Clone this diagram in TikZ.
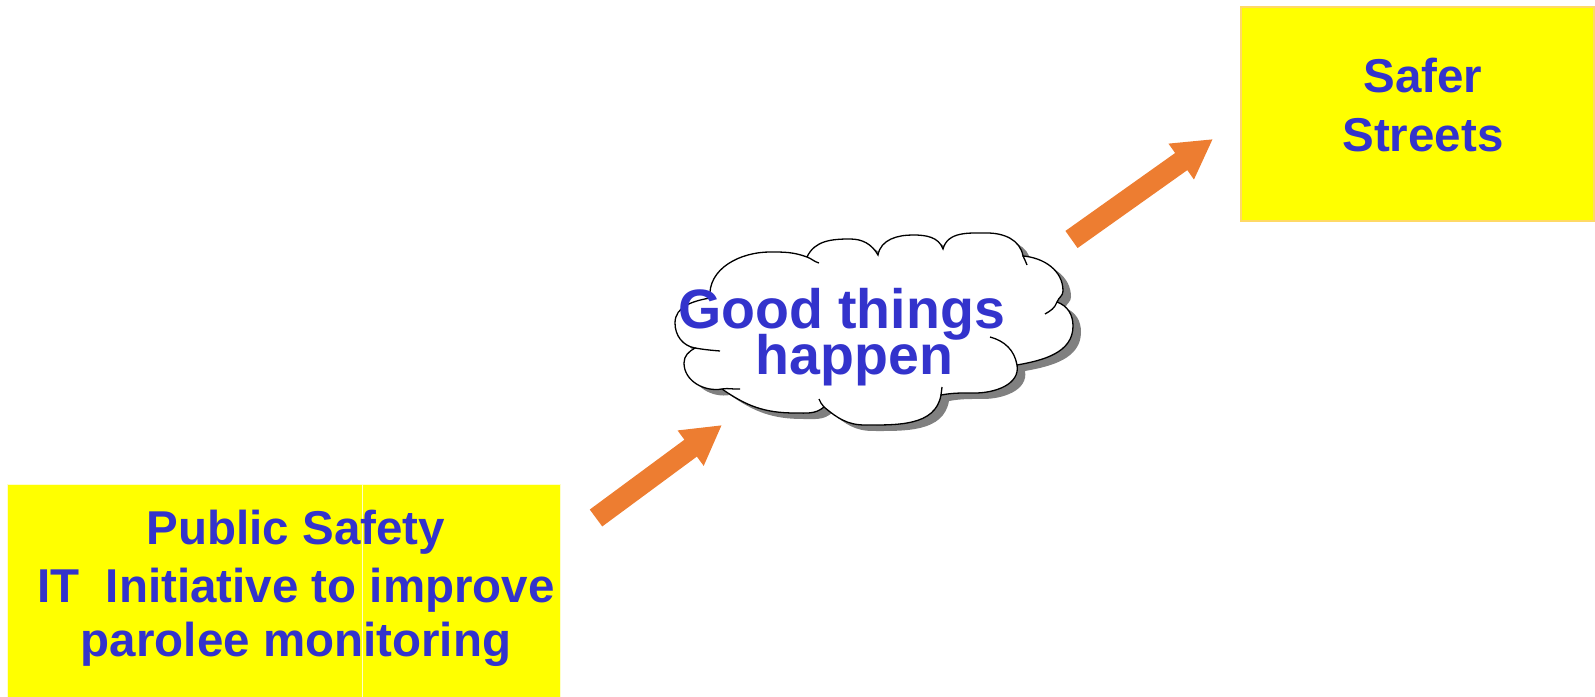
\documentclass[tikz,border=0pt]{standalone}
\usepackage{fontspec}
\setmainfont{Liberation Sans}
\usetikzlibrary{arrows.meta}
\definecolor{txtblue}{RGB}{51,51,204}
\definecolor{arroworange}{RGB}{237,125,49}
\definecolor{boxyellow}{RGB}{255,255,0}
\definecolor{shadowgray}{RGB}{128,128,128}
\definecolor{safeborder}{RGB}{255,217,102}
\definecolor{paleline}{RGB}{255,255,200}
\newcommand{\cloudoutline}{(710,398) to[out=95,in=180] (770,444) to[out=0,in=160] (807,439)
  to[out=65,in=180] (850,457) to[out=0,in=120] (878,441)
  to[out=80,in=180] (913,461) to[out=0,in=110] (943,447)
  to[out=75,in=180] (987,463) to[out=0,in=100] (1023,440)
  to[out=-5,in=90] (1063,405) to[out=-90,in=70] (1057,394)
  to[out=-20,in=90] (1073,370) to[out=-90,in=10] (1017,331)
  to[out=-80,in=0] (975,303) to[out=180,in=10] (941,301)
  to[out=-100,in=0] (865,271) to[out=180,in=-40] (824,289)
  to[out=-140,in=0] (795,283) to[out=180,in=-35] (722,307)
  to[out=190,in=-90] (684,333) to[out=90,in=210] (695,348)
  to[out=170,in=-90] (675,373) to[out=90,in=190] (710,398) -- cycle}
\tikzset{
  boxtext/.style={anchor=base, inner sep=0pt, text=txtblue,
    font=\fontsize{47.5}{57}\selectfont\bfseries},
  cloudtext/.style={anchor=base, inner sep=0pt, text=txtblue,
    font=\fontsize{55.5}{46}\selectfont\bfseries},
  blockarrow/.style={draw=arroworange, line width=21pt,
    -{Triangle[length=39pt,width=41pt]}, arroworange},
  cloudline/.style={draw=black, line width=1.3pt}
}
\begin{document}
\begin{tikzpicture}[x=1pt,y=1pt]
\useasboundingbox (0,0) rectangle (1595,696);
\clip (0,0) rectangle (1595,696);
% boxes
\node (psbox) [draw=paleline, line width=1pt, fill=boxyellow, inner sep=0pt,
  minimum width=553pt, minimum height=216pt] at (284,103) {};
\draw[paleline, line width=1pt] (362.5,211) -- (362.5,-5);
\node (ssbox) [draw=safeborder, line width=1.5pt, fill=boxyellow, inner sep=0pt,
  minimum width=353pt, minimum height=214pt] at (1417.5,582) {};
% box texts
\node (ps1) [boxtext] at (296,151) {Public Safety};
\node (ps2) [boxtext] at (296,93) {IT\ \ Initiative to improve};
\node (ps3) [boxtext] at (296,39) {parolee monitoring};
\node (ss1) [boxtext] at (1423,603) {Safer};
\node (ss2) [boxtext] at (1423,544) {Streets};
% cloud
\fill[shadowgray, shift={(8,-6)}] \cloudoutline;
\fill[white] \cloudoutline;
\draw[cloudline] \cloudoutline;
\draw[cloudline] (807,439) to[out=-20,in=165] (819,433);
\draw[cloudline] (1023,440) to[out=-80,in=95] (1027,431);
\draw[cloudline] (1057,394) to[out=-110,in=30] (1045,382);
\draw[cloudline] (990,359) to[out=-15,in=100] (1017,331);
\draw[cloudline] (942,309) to[out=-95,in=80] (941,301);
\draw[cloudline] (824,289) to[out=130,in=-70] (819,297);
\draw[cloudline] (740,307) to[out=185,in=10] (722,307);
\draw[cloudline] (720,345) to[out=175,in=-10] (695,348);
\node (cl1) [cloudtext] at (841.5,367) {Good things};
\node (cl2) [cloudtext] at (854.5,321) {happen};
% arrows
\coordinate (a1tail) at (596,178);
\coordinate (a1tip) at (722,271);
\coordinate (a2tail) at (1071.5,456.5);
\coordinate (a2tip) at (1213,557);
\draw[blockarrow] (a1tail) -- (a1tip);
\draw[blockarrow] (a2tail) -- (a2tip);
\end{tikzpicture}
\end{document}
